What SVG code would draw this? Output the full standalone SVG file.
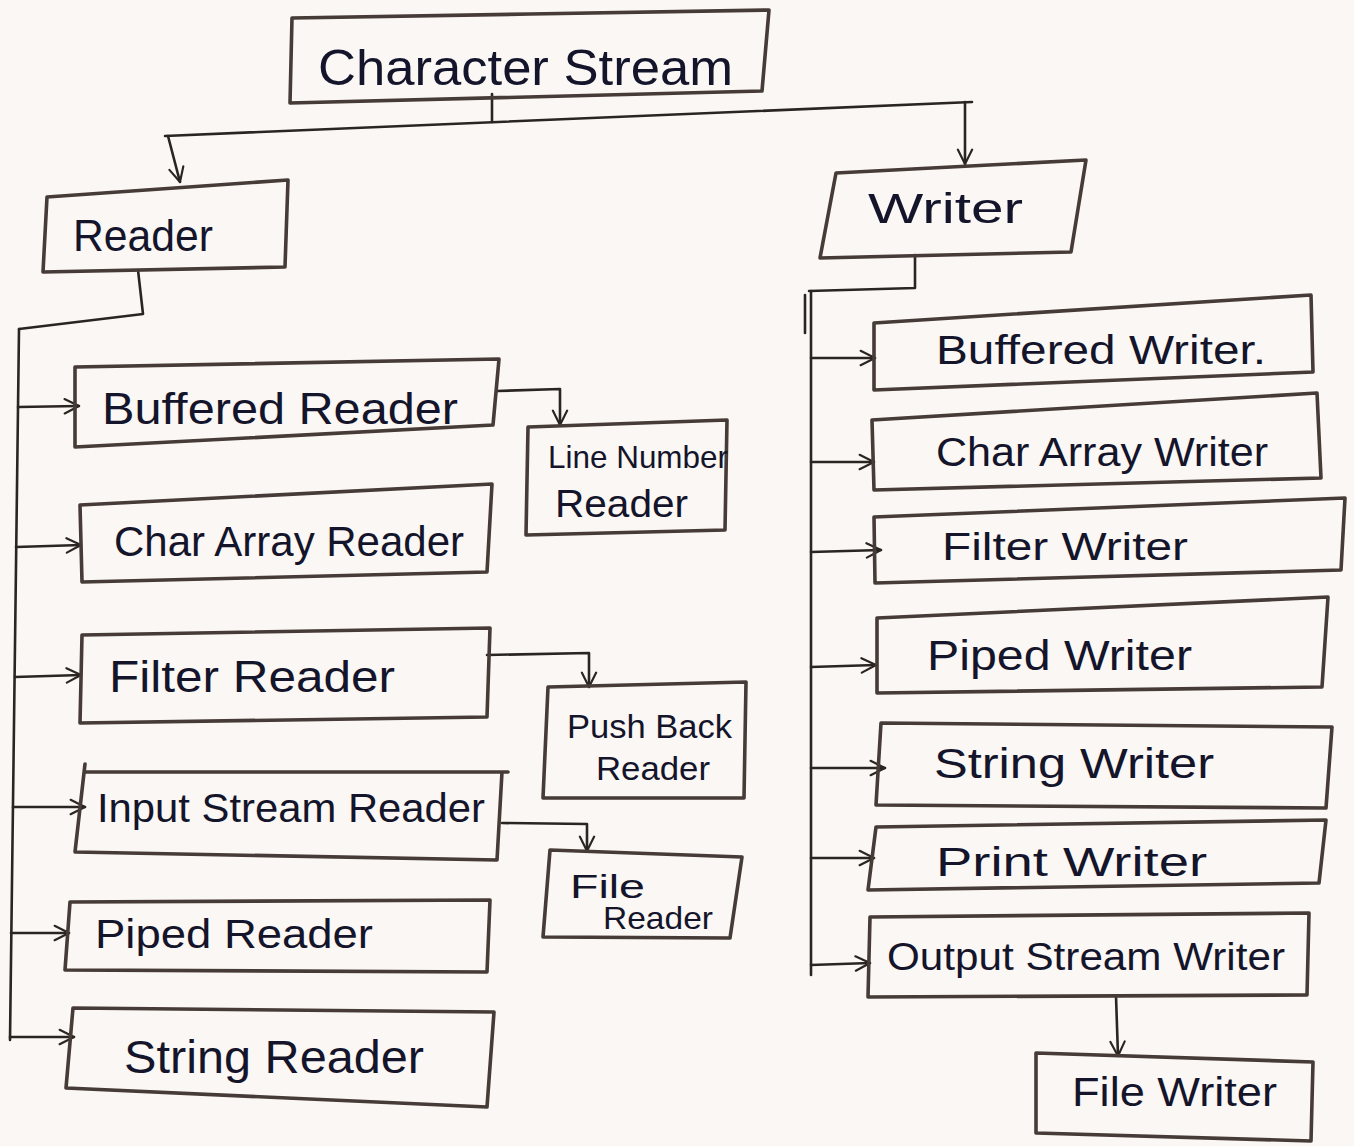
<svg xmlns="http://www.w3.org/2000/svg" width="1354" height="1146" viewBox="0 0 1354 1146">
  <defs>
    <marker id="arrow" viewBox="0 0 10 10" refX="9" refY="5" markerWidth="18" markerHeight="18" markerUnits="userSpaceOnUse" orient="auto">
      <path d="M1,1 L9,5 L1,9" fill="none" stroke="#2b2522" stroke-width="1.2" stroke-linecap="round" stroke-linejoin="round"/>
    </marker>
    <style>
      .box { fill: none; stroke: #463b36; stroke-width: 3.6; stroke-linejoin: round; stroke-linecap: round; }
      .wire { fill: none; stroke: #2b2522; stroke-width: 2.6; stroke-linejoin: round; stroke-linecap: round; }
      .tip { marker-end: url(#arrow); }
      .label { font-family: "Liberation Sans", "DejaVu Sans", sans-serif; fill: #14142a; }
    </style>
  </defs>

  <rect width="1354" height="1146" fill="#faf7f5"/>

  <!-- connectors -->
  <g id="connectors">
    <path class="wire" d="M492,94 L492,122"/>
    <path class="wire" d="M165,136 L972,102"/>
    <path class="wire tip" d="M168,136 L180,182"/>
    <path class="wire tip" d="M965,102 L965,164"/>

    <!-- Reader trunk and branches -->
    <path class="wire" d="M138,270 L143,314 L19,329"/>
    <path class="wire" d="M19,329 L10,1040"/>
    <path class="wire tip" d="M18,407 L79,406"/>
    <path class="wire tip" d="M16,547 L81,545"/>
    <path class="wire tip" d="M15,677 L81,675"/>
    <path class="wire tip" d="M13,807 L85,807"/>
    <path class="wire tip" d="M11,933 L69,933"/>
    <path class="wire tip" d="M10,1037 L74,1037"/>

    <path class="wire tip" d="M497,391 L560,389 L560,425"/>
    <path class="wire tip" d="M487,655 L589,653 L589,687"/>
    <path class="wire tip" d="M502,823 L587,824 L587,851"/>

    <!-- Writer trunk and branches -->
    <path class="wire" d="M915,255 L915,288 L809,291"/>
    <path class="wire" d="M811,291 L811,975"/>
    <path class="wire" d="M805,295 L805,333" stroke-width="1.8"/>
    <path class="wire tip" d="M811,358 L875,358"/>
    <path class="wire tip" d="M811,462 L874,462"/>
    <path class="wire tip" d="M811,552 L881,550"/>
    <path class="wire tip" d="M811,667 L876,665"/>
    <path class="wire tip" d="M811,768 L885,768"/>
    <path class="wire tip" d="M811,858 L874,858"/>
    <path class="wire tip" d="M811,965 L870,963"/>
    <path class="wire tip" d="M1116,996 L1118,1056"/>
  </g>

  <!-- root -->
  <g id="character-stream">
    <path class="box" d="M292,18 L530,14 L769,10 L762,91 L290,103 Z"/>
    <text class="label" x="318" y="85" font-size="50" textLength="415" lengthAdjust="spacingAndGlyphs">Character Stream</text>
  </g>

  <!-- Reader side -->
  <g id="reader">
    <path class="box" d="M47,197 L288,180 L285,267 L43,272 Z"/>
    <text class="label" x="73" y="251" font-size="44" textLength="140" lengthAdjust="spacingAndGlyphs">Reader</text>
  </g>
  <g id="buffered-reader">
    <path class="box" d="M75,367 L499,359 L493,425 L75,447 Z"/>
    <text class="label" x="102" y="424" font-size="44" textLength="356" lengthAdjust="spacingAndGlyphs">Buffered Reader</text>
  </g>
  <g id="line-number-reader">
    <path class="box" d="M528,427 L727,420 L725,530 L526,535 Z"/>
    <text class="label" x="548" y="468" font-size="32" textLength="180" lengthAdjust="spacingAndGlyphs">Line Number</text>
    <text class="label" x="555" y="517" font-size="38" textLength="133" lengthAdjust="spacingAndGlyphs">Reader</text>
  </g>
  <g id="char-array-reader">
    <path class="box" d="M80,505 L492,484 L487,572 L82,582 Z"/>
    <text class="label" x="114" y="556" font-size="42" textLength="350" lengthAdjust="spacingAndGlyphs">Char Array Reader</text>
  </g>
  <g id="filter-reader">
    <path class="box" d="M82,635 L490,628 L487,717 L80,723 Z"/>
    <text class="label" x="109" y="692" font-size="44" textLength="286" lengthAdjust="spacingAndGlyphs">Filter Reader</text>
  </g>
  <g id="push-back-reader">
    <path class="box" d="M548,687 L746,682 L744,798 L543,798 Z"/>
    <text class="label" x="567" y="738" font-size="34" textLength="165" lengthAdjust="spacingAndGlyphs">Push Back</text>
    <text class="label" x="596" y="780" font-size="34" textLength="114" lengthAdjust="spacingAndGlyphs">Reader</text>
  </g>
  <g id="input-stream-reader">
    <path class="box" d="M85,772 L508,772 M502,772 L497,860 L75,852 L85,764"/>
    <text class="label" x="97" y="822" font-size="40" textLength="388" lengthAdjust="spacingAndGlyphs">Input Stream Reader</text>
  </g>
  <g id="file-reader">
    <path class="box" d="M550,850 L742,857 L730,938 L543,937 Z"/>
    <text class="label" x="570" y="898" font-size="34" textLength="75" lengthAdjust="spacingAndGlyphs">File</text>
    <text class="label" x="603" y="929" font-size="32" textLength="110" lengthAdjust="spacingAndGlyphs">Reader</text>
  </g>
  <g id="piped-reader">
    <path class="box" d="M70,902 L490,900 L487,972 L65,970 Z"/>
    <text class="label" x="95" y="948" font-size="40" textLength="278" lengthAdjust="spacingAndGlyphs">Piped Reader</text>
  </g>
  <g id="string-reader">
    <path class="box" d="M73,1008 L494,1012 L487,1107 L66,1088 Z"/>
    <text class="label" x="124" y="1073" font-size="46" textLength="300" lengthAdjust="spacingAndGlyphs">String Reader</text>
  </g>

  <!-- Writer side -->
  <g id="writer">
    <path class="box" d="M836,173 L1086,160 L1071,252 L820,258 Z"/>
    <text class="label" x="868" y="223" font-size="42" textLength="155" lengthAdjust="spacingAndGlyphs">Writer</text>
  </g>
  <g id="buffered-writer">
    <path class="box" d="M874,323 L1311,295 L1313,372 L874,390 Z"/>
    <text class="label" x="936" y="364" font-size="40" textLength="330" lengthAdjust="spacingAndGlyphs">Buffered Writer.</text>
  </g>
  <g id="char-array-writer">
    <path class="box" d="M872,420 L1317,393 L1321,478 L874,490 Z"/>
    <text class="label" x="936" y="466" font-size="40" textLength="332" lengthAdjust="spacingAndGlyphs">Char Array Writer</text>
  </g>
  <g id="filter-writer">
    <path class="box" d="M874,517 L1345,498 L1341,570 L875,583 Z"/>
    <text class="label" x="942" y="560" font-size="38" textLength="246" lengthAdjust="spacingAndGlyphs">Filter Writer</text>
  </g>
  <g id="piped-writer">
    <path class="box" d="M877,618 L1328,597 L1322,687 L877,693 Z"/>
    <text class="label" x="927" y="670" font-size="42" textLength="265" lengthAdjust="spacingAndGlyphs">Piped Writer</text>
  </g>
  <g id="string-writer">
    <path class="box" d="M881,723 L1332,727 L1326,808 L876,805 Z"/>
    <text class="label" x="934" y="778" font-size="42" textLength="280" lengthAdjust="spacingAndGlyphs">String Writer</text>
  </g>
  <g id="print-writer">
    <path class="box" d="M876,827 L1326,820 L1319,883 L868,890 Z"/>
    <text class="label" x="936" y="876" font-size="40" textLength="271" lengthAdjust="spacingAndGlyphs">Print Writer</text>
  </g>
  <g id="output-stream-writer">
    <path class="box" d="M870,917 L1309,913 L1307,995 L868,997 Z"/>
    <text class="label" x="887" y="970" font-size="38" textLength="398" lengthAdjust="spacingAndGlyphs">Output Stream Writer</text>
  </g>
  <g id="file-writer">
    <path class="box" d="M1036,1053 L1313,1062 L1311,1141 L1036,1133 Z"/>
    <text class="label" x="1072" y="1106" font-size="40" textLength="205" lengthAdjust="spacingAndGlyphs">File Writer</text>
  </g>
</svg>
